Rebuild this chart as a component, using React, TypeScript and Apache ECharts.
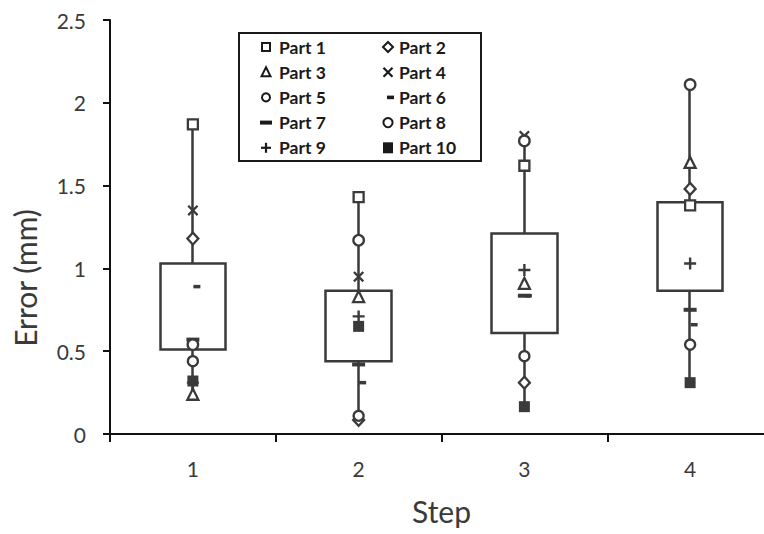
import React, { useEffect, useRef } from "react";
import * as echarts from "echarts";

// ---- data ----
const steps = ["1", "2", "3", "4"];
const partNames = ["Part 1", "Part 2", "Part 3", "Part 4", "Part 5", "Part 6", "Part 7", "Part 8", "Part 9", "Part 10"];
const part1 = [1.87, 1.43, 1.62, 1.38];
const part2 = [1.18, 0.085, 0.31, 1.48];
const part3 = [0.24, 0.83, 0.91, 1.64];
const part4 = [1.35, 0.95, 1.8, null];
const part5 = [0.44, 0.11, 0.47, 0.54];
const part6 = [0.89, 0.31, 0.835, 0.66];
const part7 = [0.57, 0.42, 0.835, 0.75];
const part8 = [0.54, 1.17, 1.77, 2.11];
const part9 = [0.31, 0.71, 0.99, 1.03];
const part10 = [0.32, 0.65, 0.165, 0.31];
const boxLow = [0.51, 0.44, 0.61, 0.865];
const boxHigh = [1.03, 0.865, 1.21, 1.4];
const yTicks = { min: 0, max: 2.5, interval: 0.5 };

const partValues: (number | null)[][] = [part1, part2, part3, part4, part5, part6, part7, part8, part9, part10];

// ---- styles ----
const INK = "#3a3a3a";
const LEG = "#1a1a1a";
const FONT = "Lato, 'Open Sans', sans-serif";

const xPath = "path://M1.5,0L5,3.5L8.5,0L10,1.5L6.5,5L10,8.5L8.5,10L5,6.5L1.5,10L0,8.5L3.5,5L0,1.5Z";
const plusPath = "path://M4,0H6V4H10V6H6V10H4V6H0V4H4Z";

const openStyle = { color: "#fff", borderColor: INK, borderWidth: 2.3, opacity: 1 };
const fillStyle = { color: INK, borderWidth: 0, opacity: 1 };

const markerStyles: any[] = [
  { symbol: "rect", symbolSize: 10, itemStyle: openStyle },
  { symbol: "diamond", symbolSize: [11, 12], itemStyle: openStyle },
  { symbol: "triangle", symbolSize: 11, itemStyle: openStyle },
  { symbol: xPath, symbolSize: 11, itemStyle: fillStyle },
  { symbol: "circle", symbolSize: 10, itemStyle: openStyle },
  { symbol: "rect", symbolSize: [7, 3.5], symbolOffset: [4, 0], itemStyle: fillStyle },
  { symbol: "rect", symbolSize: [13, 4], itemStyle: fillStyle },
  { symbol: "circle", symbolSize: 10.5, itemStyle: openStyle },
  { symbol: plusPath, symbolSize: 12, itemStyle: fillStyle },
  { symbol: "rect", symbolSize: 11, itemStyle: fillStyle },
];

function legendIcon(i: number, cx: number, cy: number): any[] {
  const open = { fill: "#fff", stroke: LEG, lineWidth: 2 };
  const solid = { fill: LEG };
  const line = { stroke: LEG, lineWidth: 2.2 };
  switch (i) {
    case 0:
      return [{ type: "rect", shape: { x: cx - 4, y: cy - 4, width: 8, height: 8 }, style: open }];
    case 1:
      return [{ type: "polygon", shape: { points: [[cx, cy - 5], [cx + 5, cy], [cx, cy + 5], [cx - 5, cy]] }, style: open }];
    case 2:
      return [{ type: "polygon", shape: { points: [[cx, cy - 5], [cx + 4.5, cy + 4], [cx - 4.5, cy + 4]] }, style: open }];
    case 3:
      return [
        { type: "line", shape: { x1: cx - 4.5, y1: cy - 4.5, x2: cx + 4.5, y2: cy + 4.5 }, style: line },
        { type: "line", shape: { x1: cx + 4.5, y1: cy - 4.5, x2: cx - 4.5, y2: cy + 4.5 }, style: line },
      ];
    case 4:
      return [{ type: "circle", shape: { cx, cy, r: 4 }, style: open }];
    case 5:
      return [{ type: "rect", shape: { x: cx - 1, y: cy - 1.8, width: 7, height: 3.6 }, style: solid }];
    case 6:
      return [{ type: "rect", shape: { x: cx - 6, y: cy - 2, width: 12, height: 4 }, style: solid }];
    case 7:
      return [{ type: "circle", shape: { cx, cy, r: 4.6 }, style: open }];
    case 8:
      return [
        { type: "line", shape: { x1: cx - 5, y1: cy, x2: cx + 5, y2: cy }, style: line },
        { type: "line", shape: { x1: cx, y1: cy - 5, x2: cx, y2: cy + 5 }, style: line },
      ];
    default:
      return [{ type: "rect", shape: { x: cx - 5, y: cy - 5.5, width: 10, height: 11 }, style: solid }];
  }
}

function buildLegend(): any[] {
  const els: any[] = [
    { type: "rect", shape: { x: 239, y: 33, width: 242, height: 128 }, style: { fill: "#fff", stroke: LEG, lineWidth: 2 } },
  ];
  partNames.forEach((name, i) => {
    const col = i % 2;
    const row = Math.floor(i / 2);
    const cy = 47 + row * 25.2;
    const iconX = col === 0 ? 266 : 388;
    const textX = col === 0 ? 279 : 399;
    els.push(...legendIcon(i, iconX, cy));
    els.push({
      type: "text",
      x: textX,
      y: cy,
      style: {
        text: name,
        font: `bold 17.5px ${FONT}`,
        fill: LEG,
        align: "left",
        textAlign: "left",
        verticalAlign: "middle",
        textVerticalAlign: "middle",
      },
    });
  });
  return els;
}

export default function App() {
  const ref = useRef<HTMLDivElement>(null);
  useEffect(() => {
    if (!ref.current) return;
    const chart = echarts.init(ref.current, undefined, { renderer: "svg" });

    const whiskerMin = steps.map((_, s) => Math.min(...partValues.map((p) => p[s]).filter((v): v is number => v != null)));
    const whiskerMax = steps.map((_, s) => Math.max(...partValues.map((p) => p[s]).filter((v): v is number => v != null)));
    const boxData = steps.map((_, s) => [boxLow[s], boxHigh[s], whiskerMin[s], whiskerMax[s]]);

    const scatterSeries = partNames.map((name, i) => ({
      type: "scatter",
      name,
      data: partValues[i].map((v, s) => (v == null ? null : [s, v])).filter((d) => d != null),
      ...markerStyles[i],
      emphasis: { disabled: true },
    }));

    chart.setOption({
      animation: false,
      backgroundColor: "#fff",
      textStyle: { fontFamily: FONT },
      grid: { left: 110, top: 20, width: 663, height: 414, outerBoundsMode: "none", containLabel: false },
      xAxis: {
        type: "category",
        data: steps,
        boundaryGap: true,
        axisLine: { show: true, lineStyle: { color: "#111", width: 2 } },
        axisTick: { show: true, length: 8, lineStyle: { color: "#111", width: 2 } },
        axisLabel: { margin: 24, fontSize: 21, color: INK, fontFamily: FONT },
        splitLine: { show: false },
        name: "Step",
        nameLocation: "middle",
        nameGap: 62,
        nameTextStyle: { fontSize: 30, color: INK, fontFamily: FONT },
      },
      yAxis: {
        type: "value",
        min: yTicks.min,
        max: yTicks.max,
        interval: yTicks.interval,
        axisLine: { show: true, lineStyle: { color: "#111", width: 2 } },
        axisTick: { show: true, length: 7, lineStyle: { color: "#111", width: 2 } },
        axisLabel: { margin: 24, fontSize: 21, color: INK, fontFamily: FONT },
        splitLine: { show: false },
      },
      series: [
        {
          type: "candlestick",
          name: "Range",
          data: boxData,
          barWidth: 66,
          itemStyle: { color: "#fff", color0: "#fff", borderColor: INK, borderColor0: INK, borderWidth: 2.5 },
          emphasis: { disabled: true },
        },
        ...scatterSeries,
      ],
      graphic: [
        {
          type: "text",
          x: 25,
          y: 278,
          rotation: Math.PI / 2,
          style: {
            text: "Error (mm)",
            font: `30px ${FONT}`,
            fill: INK,
            align: "center",
            textAlign: "center",
            verticalAlign: "middle",
            textVerticalAlign: "middle",
          },
        },
        ...buildLegend(),
      ],
    });
    return () => chart.dispose();
  }, []);
  return <div ref={ref} style={{ position: "absolute", left: 0, top: 0, width: 764, height: 534 }} />;
}
